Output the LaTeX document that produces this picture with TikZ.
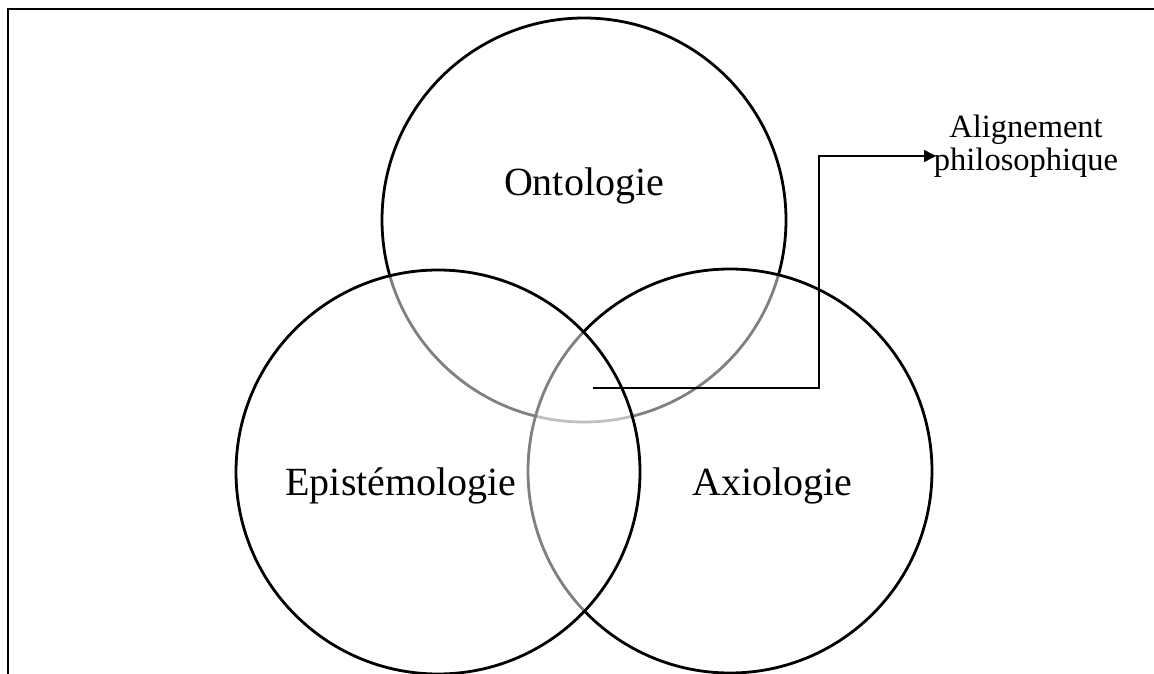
\documentclass[tikz,border=0pt]{standalone}
\usepackage{fontspec}
\setmainfont{Liberation Serif}
\usetikzlibrary{arrows.meta}
\begin{document}
\begin{tikzpicture}[x=1pt,y=-1pt,
  setcircle/.style={circle,draw=black,line width=2.8pt,fill=white,fill opacity=0.5,
    draw opacity=1,text opacity=1,minimum size=404pt,inner sep=0pt},
  biglabel/.style={anchor=base,inner sep=0pt,font=\fontsize{40}{48}\selectfont},
  smalllabel/.style={align=center,inner sep=0pt,font=\fontsize{32.5}{33}\selectfont},
  conn/.style={line width=1.4pt,-{Triangle[length=12pt,width=12pt]}}]
  \useasboundingbox (0,0) rectangle (1154,674);
  % page frame (top and left edges)
  \draw[line width=2.6pt] (8,674) -- (8,9);
  \draw[line width=2pt] (7,9.5) -- (1154,9.5);
  % the three overlapping sets, drawn back to front
  \node[setcircle] (onto) at (584,220) {};
  \node[setcircle] (axio) at (730,471) {};
  \node[setcircle] (episte) at (438,472) {};
  % set labels
  \node[biglabel] (ontolab) at (584,195) {Ontologie};
  \node[biglabel] (epilab) at (401,495) {Epistémologie};
  \node[biglabel] (axilab) at (772.5,495) {Axiologie};
  % callout for the common intersection
  \node[smalllabel] (align) at (1026,146) {Alignement\\philosophique};
  \coordinate (core) at (593,388);
  \coordinate (elbow) at (819,156);
  \coordinate (tip) at (936,156);
  \draw[conn] (core) -| (elbow) -- (tip);
\end{tikzpicture}
\end{document}
